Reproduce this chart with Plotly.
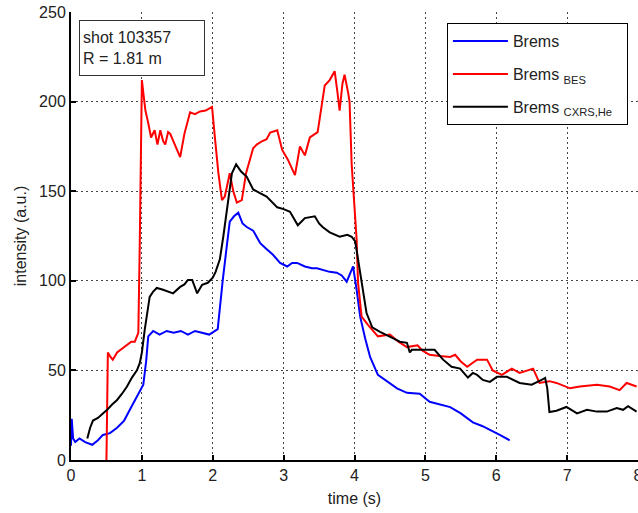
import plotly.graph_objects as go

# ---- data ----
brems_t = [0, 0.01, 0.03, 0.06, 0.12, 0.20, 0.30, 0.38, 0.45, 0.55, 0.65, 0.75, 0.83, 0.90, 0.95,
           1.02, 1.06, 1.09, 1.16, 1.25, 1.35, 1.45, 1.55, 1.65, 1.75, 1.85, 1.95, 2.07, 2.10,
           2.14, 2.20, 2.24, 2.30, 2.36, 2.42, 2.48, 2.57, 2.67, 2.75, 2.85, 2.95, 3.05, 3.12,
           3.19, 3.30, 3.40, 3.47, 3.55, 3.65, 3.75, 3.82, 3.89, 3.94, 3.98, 4.03, 4.08, 4.15,
           4.22, 4.33, 4.42, 4.50, 4.60, 4.74, 4.85, 4.92, 5.06, 5.20, 5.35, 5.50, 5.67, 5.80,
           5.91, 6.05, 6.19]
brems_v = [8, 23, 12, 10, 12, 10, 8.5, 11, 14, 15, 18, 22, 28, 33, 37,
           42, 55, 69, 72, 70, 72, 71, 72, 70, 72, 71, 70, 73, 85,
           100, 120, 133, 136, 138, 132, 130, 128, 121, 118, 114.5, 110, 108, 110,
           110, 108, 107, 107, 106, 105, 104.5, 103, 99.5, 104, 108, 95, 80, 68,
           57.5, 47.5, 45, 43, 40, 37.5, 37, 37, 32.5, 31, 29.5, 26, 21, 19,
           17, 14, 11]

bes_t = [0.50, 0.51, 0.52, 0.55, 0.59, 0.65, 0.72, 0.79, 0.85, 0.90, 0.95, 0.97, 0.99, 1.00,
         1.02, 1.05, 1.09, 1.13, 1.18, 1.22, 1.26, 1.30, 1.33, 1.37, 1.40, 1.46, 1.54, 1.60,
         1.68, 1.75, 1.82, 1.90, 1.99, 2.03, 2.08, 2.13, 2.17, 2.24, 2.29, 2.34, 2.41, 2.47,
         2.52, 2.57, 2.62, 2.70, 2.76, 2.81, 2.91, 2.98, 3.06, 3.16, 3.20, 3.23, 3.30, 3.37,
         3.48, 3.54, 3.58, 3.65, 3.72, 3.76, 3.79, 3.83, 3.86, 3.91, 3.93, 3.96, 4.00, 4.03,
         4.05, 4.10, 4.19, 4.33, 4.50, 4.62, 4.74, 4.89, 4.96, 5.06, 5.20, 5.35, 5.42, 5.50,
         5.59, 5.73, 5.87, 5.95, 6.08, 6.22, 6.33, 6.52, 6.61, 6.75, 6.85, 7.04, 7.18, 7.42,
         7.60, 7.74, 7.84, 7.98]
bes_v = [0, 20, 60, 58, 56, 60, 62, 64, 66, 66, 71, 120, 190, 212,
         205, 195, 188, 180, 184, 176, 184, 178, 176, 183, 182, 176, 169, 182,
         194, 193, 194.5, 195, 197, 180, 160, 145, 147, 160, 150, 143.6, 145, 160,
         167.6, 174, 176, 178, 179, 182.7, 184, 173, 167.6, 159, 168, 175, 170, 180,
         183, 199, 209, 212, 217, 205, 195, 210, 215, 205, 200, 165, 143, 123,
         99, 80, 75.4, 69, 70, 66, 63, 64, 61, 58.7, 58, 57.5, 58.7, 55,
         52, 56, 56, 50, 47.5, 51, 48.6, 51, 43, 44, 43, 40, 41, 42,
         41, 39, 43, 41]

cxrs_t = [0.23, 0.27, 0.31, 0.38, 0.45, 0.51, 0.58, 0.65, 0.72, 0.79, 0.86, 0.93, 0.97, 1.00,
          1.04, 1.08, 1.11, 1.16, 1.21, 1.30, 1.44, 1.54, 1.60, 1.65, 1.71, 1.78, 1.85, 1.93,
          2.00, 2.04, 2.10, 2.15, 2.20, 2.27, 2.33, 2.40, 2.48, 2.57, 2.66, 2.76, 2.91, 3.00,
          3.09, 3.15, 3.20, 3.30, 3.44, 3.50, 3.55, 3.65, 3.79, 3.90, 3.96, 4.01, 4.05, 4.08,
          4.13, 4.17, 4.25, 4.36, 4.54, 4.64, 4.74, 4.78, 4.81, 4.92, 4.96, 5.13, 5.25, 5.37,
          5.49, 5.60, 5.67, 5.73, 5.81, 5.91, 6.01, 6.15, 6.33, 6.50, 6.64, 6.69, 6.72, 6.75,
          6.85, 6.99, 7.14, 7.28, 7.42, 7.56, 7.70, 7.79, 7.86, 7.98]
cxrs_v = [12, 18, 22, 23.5, 26, 28, 31, 33.5, 37, 41, 46, 50, 54, 60,
          72.6, 85, 91, 94, 96, 95, 93, 96.6, 98, 100.5, 100.5, 93, 97.8, 98.9,
          101.7, 105, 112, 125, 140, 160, 165, 161, 158, 151, 149, 147, 141, 140,
          138.5, 134, 131, 135, 136, 132, 130, 127, 124.6, 125.7, 124.6, 122, 112, 104.5,
          90, 82, 74, 71.5, 68, 66, 65.4, 60, 61.5, 61.5, 61.5, 61.5, 56, 52,
          51, 46, 48.6, 47.5, 44.7, 43.6, 46.4, 46.4, 43, 42, 44.7, 45.8, 40, 26.8,
          27.5, 29.6, 26, 28, 27, 27, 29, 28, 30, 27]

x_ticks = [0, 1, 2, 3, 4, 5, 6, 7, 8]
y_ticks = [0, 50, 100, 150, 200, 250]

FONT = "Liberation Sans, Arial, sans-serif"

fig = go.Figure()
fig.add_trace(go.Scatter(x=brems_t, y=brems_v, mode="lines", name="Brems",
                         line=dict(color="#0000FF", width=2), legendgroup="a"))
fig.add_trace(go.Scatter(x=bes_t, y=bes_v, mode="lines", name="Brems <sub>BES</sub>",
                         line=dict(color="#FF0000", width=2), legendgroup="b"))
fig.add_trace(go.Scatter(x=cxrs_t, y=cxrs_v, mode="lines", name="Brems <sub>CXRS,He</sub>  ",
                         line=dict(color="#000000", width=2), legendgroup="c"))

axis_common = dict(
    showline=True, linecolor="black", linewidth=2,
    ticks="inside", ticklen=5, tickwidth=2, tickcolor="black",
    showgrid=True, gridcolor="#444", gridwidth=1, griddash="2px,3px",
    zeroline=False, automargin=False,
    tickfont=dict(family=FONT, size=16, color="#222"),
)

fig.update_layout(
    width=638, height=513,
    margin=dict(l=71, r=0, t=12, b=53),
    paper_bgcolor="white", plot_bgcolor="white",
    font=dict(family=FONT, size=16, color="#222"),
    xaxis=dict(range=[0, 8], tickvals=x_ticks, ticklabeloverflow="allow",
               title=dict(text="time (s)", font=dict(size=16), standoff=10),
               **axis_common),
    yaxis=dict(range=[0, 250], tickvals=y_ticks,
               title=dict(text="intensity (a.u.)", font=dict(size=16), standoff=8),
               **axis_common),
    showlegend=True,
    legend=dict(x=0.663, y=0.975, xanchor="left", yanchor="top",
                bgcolor="white", bordercolor="black", borderwidth=1,
                font=dict(family=FONT, size=16, color="#222"),
                itemwidth=55, tracegroupgap=9, traceorder="grouped"),
    annotations=[dict(
        xref="paper", yref="paper", x=0.014, y=0.982, xanchor="left", yanchor="top",
        text="shot 103357<br>R = 1.81 m", showarrow=False, align="left",
        font=dict(family=FONT, size=16, color="#222"),
        bordercolor="#333", borderwidth=1, borderpad=3, bgcolor="white",
        width=118, height=48,
    )],
)

fig.write_html("out.html")
